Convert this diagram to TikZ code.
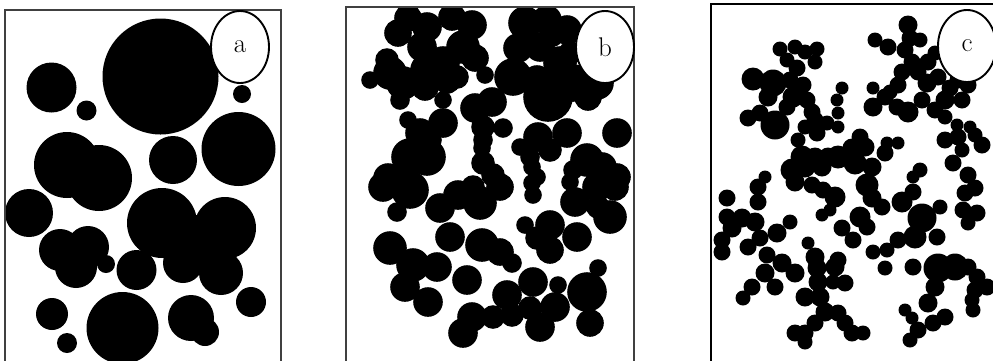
\documentclass[tikz,border=0pt]{standalone}
\usetikzlibrary{shapes.geometric}
\tikzset{
  frame/.style={draw=black!75, line width=1.3pt},
  framec/.style={draw=black, line width=1.8pt},
  lab/.style={draw=black, line width=1.9pt, fill=white, ellipse, minimum width=58pt, minimum height=72pt, inner sep=0pt, font=\fontsize{27}{29}\selectfont},
  blobfill/.style={fill=black}
}
\begin{document}
\begin{tikzpicture}
\useasboundingbox (0pt,0pt) rectangle (993pt,-360pt);
\clip (0pt,0pt) rectangle (993pt,-360pt);
% panel a
\begin{scope}
\clip (5pt,-10pt) rectangle (281pt,-370pt);
\foreach \x/\y/\r in {160.5/76.5/58, 51.5/87.5/25, 86.5/110.5/10, 242/94/9, 238.5/149/37, 173/160/24, 67/165/33, 99/178/33, 29/213/24, 60/250/21, 88/247/21, 76/267/21, 106/264/9, 136.5/270/20, 162/223/35, 225/228/31, 183/263/20, 221/273/22, 195/240/25, 251/302/15, 52/314/16, 67/343/10, 122.5/328/36, 191/318/23, 205/332/14}
  \fill[blobfill] (\x pt,-\y pt) circle (\r pt);
\end{scope}
\draw[frame] (5pt,-10pt) rectangle (281pt,-370pt);
% panel b
\begin{scope}
\clip (346pt,-7pt) rectangle (634pt,-370pt);
\foreach \x/\y/\r in {408/18/12, 427/27/13, 452/17/12, 472/25/13, 398/33/12, 422/47/13, 463/47/15, 475/58/12, 387/60/10, 370/80/7, 390/73/15, 403/83/15, 427/70/15, 443/63/15, 447/80/12, 425/87/12, 400/100/8, 443/100/7, 485/75/7, 457/77/10,
525/23/15, 547/20/13, 567/30/13, 518/48/13, 540/47/13, 513/77/17, 537/80/13, 560/63/15, 573/83/17, 548/97/23, 597/83/15, 570/53/10, 588/97/12, 553/37/8,
408/120/7, 420/133/13, 443/123/13, 430/140/10, 410/157/17, 427/157/17, 388/178/13,
383/187/13, 410/190/17, 397/212/8, 440/208/13, 458/195/13, 480/203/15, 473/187/10, 500/187/12,
475/108/13, 492/102/13, 483/127/10, 503/128/8, 483/140/8, 482/148/7, 483/163/10, 493/175/10,
520/147/7, 538/137/13, 550/150/10, 567/133/13, 617/133/13, 530/157/8, 587/160/15, 602/167/13, 617/177/12, 573/170/8, 532/167/7, 537/177/7,
532/183/7, 533/195/7, 570/182/7, 575/202/13, 597/187/13, 615/187/12, 610/217/15, 598/207/10,
390/248/15, 413/265/15, 437/267/13, 405/287/13, 428/302/13, 450/237/13, 467/280/13, 482/245/15, 500/252/12, 512/263/8, 525/225/7, 550/225/13, 537/238/10, 550/250/12, 577/237/13, 598/268/7, 533/282/13, 558/285/7, 587/292/18, 507/295/13, 512/315/10, 530/308/10, 555/307/13, 540/327/13, 590/323/12, 493/317/10, 472/317/13, 463/333/13}
  \fill[blobfill] (\x pt,-\y pt) circle [radius={(\r+1.8)*1pt}];
\end{scope}
\draw[frame] (346pt,-7pt) rectangle (634pt,-370pt);
% panel c
\begin{scope}
\clip (711pt,-4pt) rectangle (995pt,-370pt);
\foreach \x/\y/\r in {780/49/6, 795/47/6, 805/52/6, 817/49/6, 815/62/6, 787/60/6, 797/68/7, 753/79/10, 773/83/12, 768/97/8, 790/80/7, 803/85/7, 793/97/9, 807/100/7, 748/118/7, 760/113/7, 775/125/13, 787/107/7, 812/112/7, 815/120/7, 805/127/6, 817/133/7, 827/123/6, 798/140/6, 842/88/5, 837/100/5, 838/113/5, 838/127/5,
875/40/6, 888/47/7, 908/25/8, 910/38/7, 920/40/6, 905/50/7, 912/62/7, 918/72/7, 902/72/7, 898/85/7, 928/62/7, 935/53/6, 927/83/8, 938/77/7, 950/88/7, 958/80/7, 968/85/7, 962/100/7, 945/100/8, 935/110/7, 922/100/7, 908/112/9, 897/107/7, 885/97/7, 873/107/8, 873/88/5, 890/92/6, 945/117/6, 957/125/5, 970/127/5, 975/135/6, 982/145/7, 945/140/7, 958/137/7, 953/163/7, 962/150/6, 968/175/7,
860/137/7, 865/147/8, 852/148/8, 887/143/5, 898/143/5, 838/157/10, 828/157/8, 815/157/8, 802/157/10, 792/170/10, 805/167/9, 822/167/8, 855/163/10, 872/167/8, 885/153/7, 920/170/6, 913/177/5, 765/177/5,
758/187/7, 758/202/7, 727/198/7, 795/182/8, 812/185/7, 823/190/7, 835/197/9, 822/215/5, 830/210/5, 867/185/10, 872/198/8, 882/207/7, 860/217/9, 867/227/7, 842/228/7, 853/240/7, 902/202/9, 913/192/7, 940/207/6, 922/218/13, 915/237/10, 937/237/7, 898/240/7, 887/250/6, 873/252/6, 885/268/6, 913/267/7, 965/193/7, 975/188/7, 963/210/7, 977/213/7, 968/223/6,
938/268/13, 955/267/12, 968/267/7, 977/277/7, 987/287/7, 975/290/7, 972/300/6, 973/310/6, 935/287/8, 928/303/8, 945/317/7, 933/323/7, 905/310/5, 912/318/5, 918/330/7, 910/340/6,
727/217/7, 742/218/8, 755/222/8, 732/228/8, 722/240/7, 722/252/7, 748/247/7, 760/238/7, 777/233/8, 790/222/6, 767/255/7, 782/263/8, 795/273/8, 765/273/8, 752/287/7, 743/298/6, 775/287/7, 808/243/5, 815/257/8, 817/268/8, 818/282/8, 805/297/8, 820/297/8, 835/267/8, 838/260/7, 833/282/6, 845/283/7, 825/312/8, 838/313/7, 845/323/7, 852/333/7, 863/333/6, 815/323/7, 805/333/7, 795/333/7, 805/342/6}
  \fill[blobfill] (\x pt,-\y pt) circle [radius={(\r+1.5)*1pt}];
\end{scope}
\draw[framec] (711pt,-4pt) rectangle (995pt,-370pt);
% labels
\node[lab] (la) at (240pt,-47pt) {a};
\node[lab] (lb) at (605pt,-47pt) {b};
\node[lab] (lc) at (967pt,-46pt) {c};
\end{tikzpicture}
\end{document}
